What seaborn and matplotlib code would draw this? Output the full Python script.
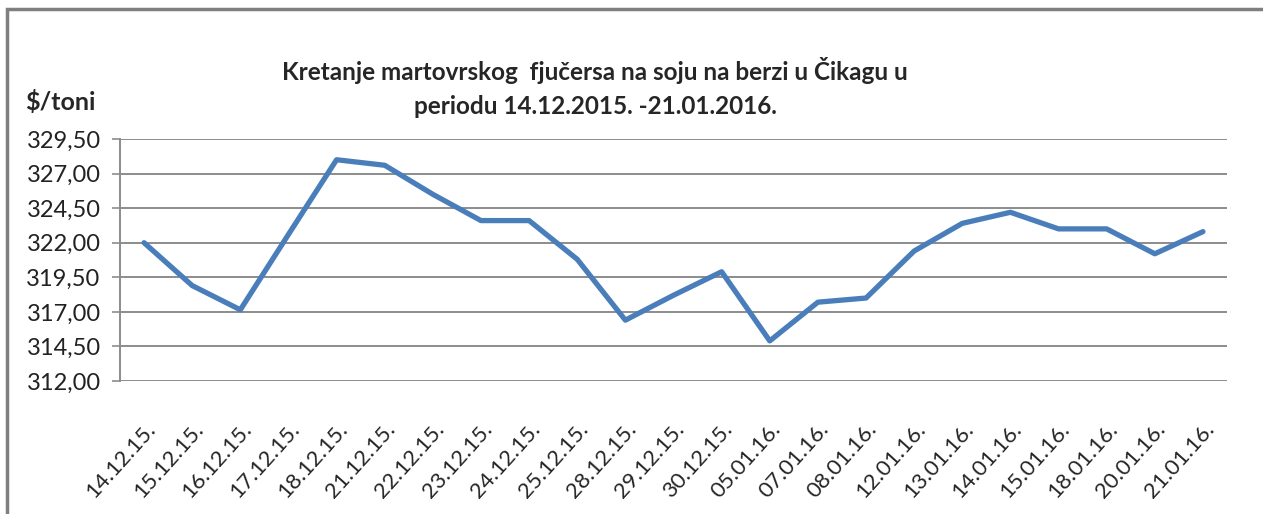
import numpy as np
import matplotlib
matplotlib.use("Agg")
import matplotlib.pyplot as plt
import matplotlib.ticker as mticker
from matplotlib.patches import Rectangle
import seaborn as sns
import pandas as pd

# dates of trading days (x categories)
dates = ["14.12.15.", "15.12.15.", "16.12.15.", "17.12.15.", "18.12.15.", "21.12.15.",
         "22.12.15.", "23.12.15.", "24.12.15.", "25.12.15.", "28.12.15.", "29.12.15.",
         "30.12.15.", "05.01.16.", "07.01.16.", "08.01.16.", "12.01.16.", "13.01.16.",
         "14.01.16.", "15.01.16.", "18.01.16.", "20.01.16.", "21.01.16."]
# soybean march futures, $/ton
prices = [322.0, 318.9, 317.15, 322.6, 328.0, 327.6, 325.5, 323.6, 323.6, 320.8,
          316.4, 318.2, 319.9, 314.9, 317.7, 318.0, 321.4, 323.4, 324.2, 323.0,
          323.0, 321.2, 322.8]
y_ticks = [312.0, 314.5, 317.0, 319.5, 322.0, 324.5, 327.0, 329.5]

df = pd.DataFrame({"datum": dates, "cijena": prices})

sns.set_style("white")
plt.rcParams["font.family"] = ["Lato", "DejaVu Sans"]

fig = plt.figure(figsize=(12.63, 5.14), dpi=100)
ax = fig.add_axes([120 / 1263, 1 - 381 / 514, (1227 - 120) / 1263, (381 - 139) / 514])

sns.lineplot(data=df, x="datum", y="cijena", sort=False, color="#4A7EBB",
             linewidth=3.8, ax=ax)

ax.set_xlim(-0.5, len(dates) - 0.5)
ax.set_ylim(y_ticks[0], y_ticks[-1])
ax.set_yticks(y_ticks)
ax.yaxis.set_major_formatter(mticker.FuncFormatter(lambda v, p: f"{v:.2f}".replace(".", ",")))
ax.grid(axis="y", color="#8C8C8C", linewidth=1.4)
ax.set_axisbelow(True)
for s in ["top", "right", "bottom"]:
    ax.spines[s].set_visible(False)
ax.spines["left"].set_color("#8C8C8C")
ax.spines["left"].set_linewidth(1.4)
ax.tick_params(axis="y", which="major", left=True, length=6, width=1.2, color="#8C8C8C",
               labelsize=17, pad=8, labelcolor="#222222")
ax.tick_params(axis="x", bottom=False, labelsize=16, pad=24)
plt.setp(ax.get_xticklabels(), rotation=48, ha="right", rotation_mode="anchor")
ax.set_xlabel("")
ax.set_ylabel("")

fig.text(595 / 1263, 1 - 71 / 514, "Kretanje martovrskog  fjučersa na soju na berzi u Čikagu u",
         ha="center", va="center", fontsize=17.5, fontweight="bold")
fig.text(595 / 1263, 1 - 107 / 514, "periodu 14.12.2015. -21.01.2016.",
         ha="center", va="center", fontsize=17.5, fontweight="bold")
fig.text(25 / 1263, 1 - 102 / 514, "$/toni", ha="left", va="center",
         fontsize=18, fontweight="bold")

# outer frame (top and left edges visible)
fig.patches.append(Rectangle((7 / 1263, -0.1), 1.2, 1 - 8.5 / 514 + 0.1,
                             transform=fig.transFigure, fill=False,
                             edgecolor="#7F7F7F", linewidth=2.5))

fig.savefig("out.png", dpi=100)
